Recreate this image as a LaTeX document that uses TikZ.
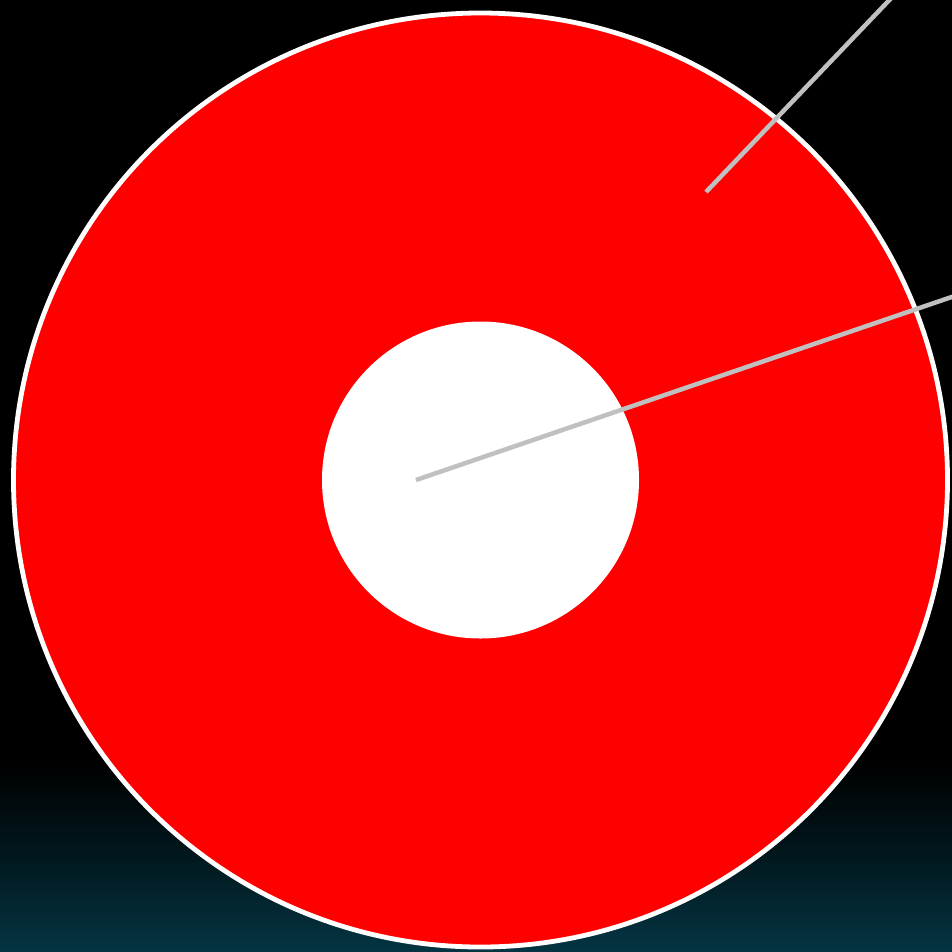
\documentclass[tikz,border=0pt]{standalone}
\usepackage{tikz}
\usetikzlibrary{calc}
\usepackage{xcolor}
\definecolor{ringred}{HTML}{FF0000}
\definecolor{pointer}{HTML}{C0C0C0}
\definecolor{deepsea}{HTML}{043442}

\begin{document}
\begin{tikzpicture}[x=0.1mm, y=-0.1mm]
  \useasboundingbox (0,0) rectangle (952,951);
  \clip (0,0) rectangle (952,951);
  \fill[black] (0,0) rectangle (952,951);
  \shade[top color=black, bottom color=deepsea, middle color=deepsea!45!black] (0,760) rectangle (952,951);
  \coordinate (centre) at (480.5,480);
  \draw[line width=0.48mm, draw=white, fill=ringred] (centre) circle (467);
  \fill[white] (centre) circle (158.5);
  \coordinate (tipA) at (706,192);
  \coordinate (endA) at (897,-8);
  \coordinate (tipB) at (416,480);
  \coordinate (endB) at (975,289);
  \draw[line width=0.45mm, draw=pointer] (tipA) -- (endA);
  \draw[line width=0.45mm, draw=pointer] (tipB) -- (endB);
\end{tikzpicture}
\end{document}
